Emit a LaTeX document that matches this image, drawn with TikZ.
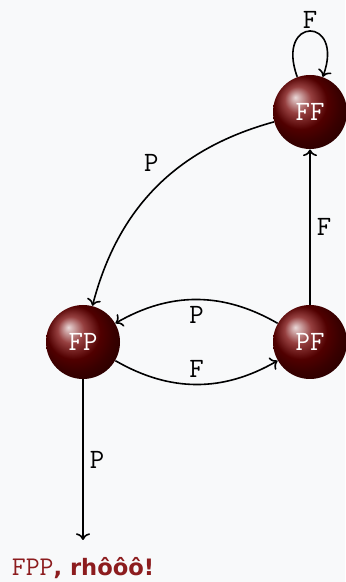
\documentclass[tikz,border=0pt]{standalone}
\usepackage{fontspec}
\newfontfamily\boldsans{DejaVu Sans}
\usepackage{xcolor}
\usetikzlibrary{arrows.meta,positioning}

\definecolor{bgcol}{HTML}{F8F9FA}
\definecolor{rhored}{RGB}{140,28,30}

\tikzset{
    ballnode/.style={circle,minimum size=37pt,inner sep=0pt,shading=ball,
        ball color=red!45!black,text=white,font=\fontsize{14}{16}\selectfont\ttfamily},
    lbl/.style={font=\fontsize{14}{16}\selectfont\ttfamily,inner sep=3pt},
    trans/.style={->,thick}
}

\begin{document}
\begin{tikzpicture}[x=0.5pt,y=0.5pt]
    \fill[bgcol] (0,0) rectangle (345,582);
    \useasboundingbox (0,0) rectangle (345,582);

    \node[ballnode] (FF) at (310,470) {FF};
    \node[ballnode] (FP) at (83,240) {FP};
    \node[ballnode] (PF) at (310,240) {PF};
    \coordinate (end) at (83,42);
    \node[text=rhored,font=\fontsize{13.5}{16}\selectfont] (cry) at (83,14)
        {{\ttfamily FPP}{\boldsans\fontsize{11.3}{13}\selectfont\bfseries, rhôôô!}};

    \path[trans] (FF) edge[loop above,looseness=6.5,in=70,out=110]
        node[lbl,above,inner sep=1pt] {F} (FF);
    \path[trans] (FF) edge[bend right] node[lbl,swap,auto,pos=0.45] {P} (FP);
    \path[trans] (PF) edge node[lbl,swap,auto] {F} (FF);
    \path[trans] (PF) edge[bend right] node[lbl,auto] {P} (FP);
    \path[trans] (FP) edge[bend right] node[lbl,auto] {F} (PF);
    \path[trans] (FP) edge node[lbl,auto] {P} (end);
\end{tikzpicture}
\end{document}
